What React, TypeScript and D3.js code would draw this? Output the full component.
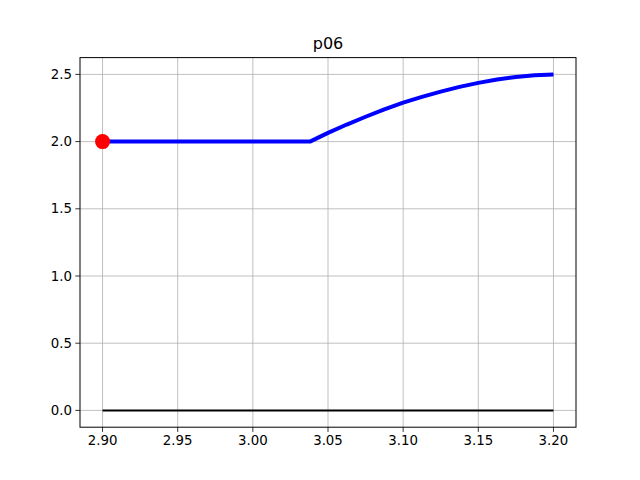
import React from "react";
import * as d3 from "d3";

const curveX = [2.9, 3.038, 3.05, 3.0625, 3.075, 3.0875, 3.1, 3.1125, 3.125, 3.1375, 3.15, 3.1625, 3.175, 3.1875, 3.2];
const curveY = [2.0, 2.0, 2.065, 2.127, 2.185, 2.24, 2.29, 2.333, 2.372, 2.407, 2.437, 2.462, 2.48, 2.493, 2.5];
const baseX = [2.9, 3.2];
const baseY = [0, 0];
const markerX = [2.9];
const markerY = [2.0];
const xTicks = [2.9, 2.95, 3.0, 3.05, 3.1, 3.15, 3.2];
const yTicks = [0, 0.5, 1.0, 1.5, 2.0, 2.5];
const title = "p06";

export default function App() {
  const W = 640, H = 480;
  const L = 80, R = 576, T = 57.6, B = 427.2;
  const x = d3.scaleLinear().domain([2.885, 3.215]).range([L, R]);
  const y = d3.scaleLinear().domain([-0.125, 2.625]).range([B, T]);
  const line = d3.line<[number, number]>().x(d => x(d[0])).y(d => y(d[1]));
  const curve = curveX.map((v, i) => [v, curveY[i]] as [number, number]);
  const base = baseX.map((v, i) => [v, baseY[i]] as [number, number]);
  const font = "DejaVu Sans, sans-serif";
  return (
    <svg width={W} height={H} style={{ position: "absolute", left: 0, top: 0, display: "block", background: "#fff" }}>
      <rect x={0} y={0} width={W} height={H} fill="#fff" />
      <g>
        {xTicks.map(t => (
          <line key={"gx" + t} x1={x(t)} x2={x(t)} y1={T} y2={B} stroke="#b0b0b0" strokeWidth={0.8} />
        ))}
        {yTicks.map(t => (
          <line key={"gy" + t} x1={L} x2={R} y1={y(t)} y2={y(t)} stroke="#b0b0b0" strokeWidth={0.8} />
        ))}
      </g>
      <path d={line(base) || ""} fill="none" stroke="#000" strokeWidth={2} />
      <path d={line(curve) || ""} fill="none" stroke="#0000ff" strokeWidth={4} strokeLinejoin="round" strokeLinecap="butt" />
      {markerX.map((v, i) => (
        <circle key={"m" + i} cx={x(v)} cy={y(markerY[i])} r={7.5} fill="#ff0000" />
      ))}
      <rect x={L} y={T} width={R - L} height={B - T} fill="none" stroke="#000" strokeWidth={1} />
      {xTicks.map(t => (
        <g key={"tx" + t}>
          <line x1={x(t)} x2={x(t)} y1={B} y2={B + 4.7} stroke="#000" strokeWidth={0.8} />
          <text x={x(t)} y={B + 18} textAnchor="middle" fontFamily={font} fontSize={13.33} fill="#000">{t.toFixed(2)}</text>
        </g>
      ))}
      {yTicks.map(t => (
        <g key={"ty" + t}>
          <line x1={L - 4.7} x2={L} y1={y(t)} y2={y(t)} stroke="#000" strokeWidth={0.8} />
          <text x={L - 8} y={y(t)} dy="0.35em" textAnchor="end" fontFamily={font} fontSize={13.33} fill="#000">{t.toFixed(1)}</text>
        </g>
      ))}
      <text x={(L + R) / 2} y={T - 8.5} textAnchor="middle" fontFamily={font} fontSize={16} fill="#000">{title}</text>
    </svg>
  );
}
